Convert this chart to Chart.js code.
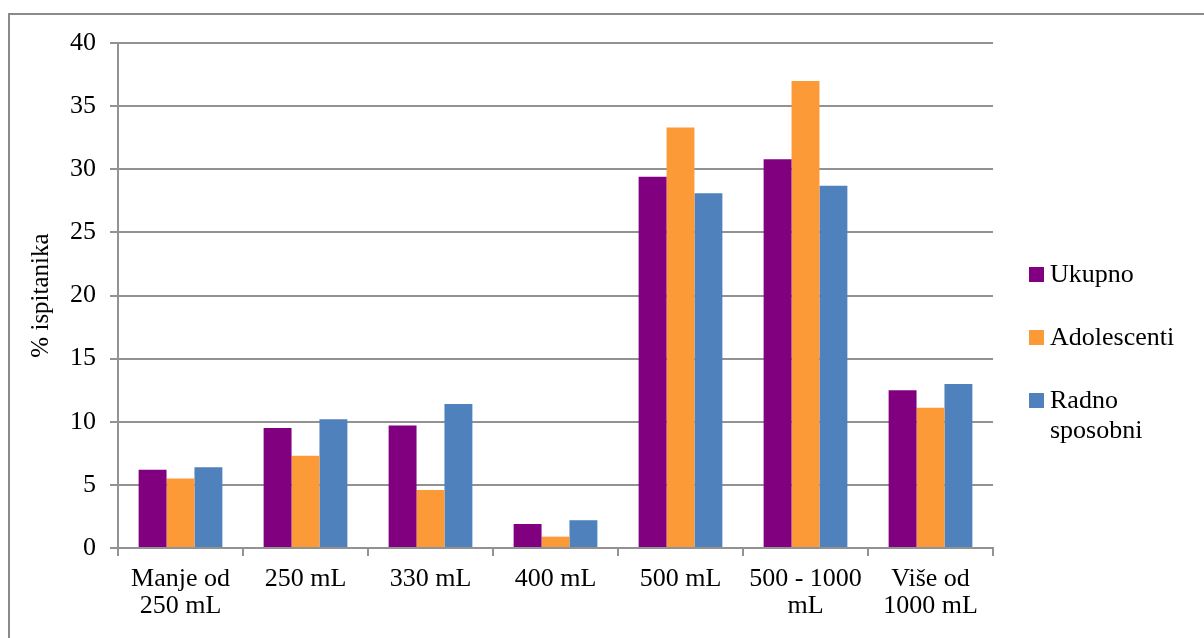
<!DOCTYPE html>
<html>
<head>
<meta charset="utf-8">
<script src="https://cdn.jsdelivr.net/npm/chart.js@4.4.1/dist/chart.umd.min.js"></script>
<style>
    html, body { margin: 0; padding: 0; background: #fff; }
    #wrap { position: relative; width: 1204px; height: 638px; overflow: hidden; font-family: 'Liberation Serif', 'Times New Roman', serif; }
    #frame { position: absolute; left: 8px; top: 13px; right: -10px; bottom: -10px; border-left: 2px solid #8a8a8a; border-top: 2px solid #8a8a8a; }
    #chart { position: absolute; left: 0; top: 0; }
    #legend { position: absolute; left: 1029px; top: 259px; width: 175px; }
    .item { position: relative; padding-left: 21px; font-size: 26px; line-height: 30px; color: #000; max-width: 140px; }
    .item .box { position: absolute; left: 0; top: 8px; width: 15px; height: 15px; }
</style>
</head>
<body>
<div id="wrap">
    <div id="frame"></div>
    <canvas id="chart" width="1204" height="638"></canvas>
    <div id="legend"></div>
</div>
<script>
    const categories = [['Manje od', '250 mL'], '250 mL', '330 mL', '400 mL', '500 mL', ['500 - 1000', 'mL'], ['Više od', '1000 mL']];
    const ukupno = [6.2, 9.5, 9.7, 1.9, 29.4, 30.8, 12.5];
    const adolescenti = [5.5, 7.3, 4.6, 0.9, 33.3, 37.0, 11.1];
    const radnoSposobni = [6.4, 10.2, 11.4, 2.2, 28.1, 28.7, 13.0];
    const seriesNames = ['Ukupno', 'Adolescenti', 'Radno sposobni'];
    const seriesColors = ['#800080', '#fd9a38', '#4f81bd'];

    const font = "'Liberation Serif', 'Times New Roman', serif";
    const gridColor = '#929292';

    const datasets = [ukupno, adolescenti, radnoSposobni].map((values, i) => ({
        label: seriesNames[i],
        data: values,
        backgroundColor: seriesColors[i],
        borderWidth: 0,
        categoryPercentage: 0.67,
        barPercentage: 1.0
    }));

    new Chart(document.getElementById('chart').getContext('2d'), {
        type: 'bar',
        data: { labels: categories, datasets: datasets },
        options: {
            responsive: false,
            animation: false,
            devicePixelRatio: 1,
            layout: { padding: { left: 0, right: 211, top: 43, bottom: 0 } },
            plugins: { legend: { display: false }, tooltip: { enabled: false } },
            scales: {
                x: {
                    afterFit: scale => { scale.height = 90; },
                    grid: { drawOnChartArea: false, drawTicks: true, tickLength: 8, color: gridColor, lineWidth: 2, offset: true },
                    border: { color: gridColor, width: 2 },
                    ticks: { color: '#000', font: { family: font, size: 26, lineHeight: 1.04 }, padding: 10, maxRotation: 0, autoSkip: false }
                },
                y: {
                    min: 0,
                    max: 40,
                    afterFit: scale => { scale.width = 118; },
                    ticks: { stepSize: 5, color: '#000', font: { family: font, size: 26 }, padding: 14 },
                    grid: { color: gridColor, lineWidth: 2, tickLength: 8 },
                    border: { color: gridColor, width: 2 },
                    title: { display: true, text: '% ispitanika', color: '#000', font: { family: font, size: 25 }, padding: { top: 26, bottom: 0 } }
                }
            }
        }
    });

    // legend on the right, same as the original
    const legend = document.getElementById('legend');
    seriesNames.forEach((name, i) => {
        const item = document.createElement('div');
        item.className = 'item';
        item.style.marginBottom = '33px';
        item.innerHTML = `<span class="box" style="background:${seriesColors[i]}"></span>${name}`;
        legend.appendChild(item);
    });
</script>
</body>
</html>
